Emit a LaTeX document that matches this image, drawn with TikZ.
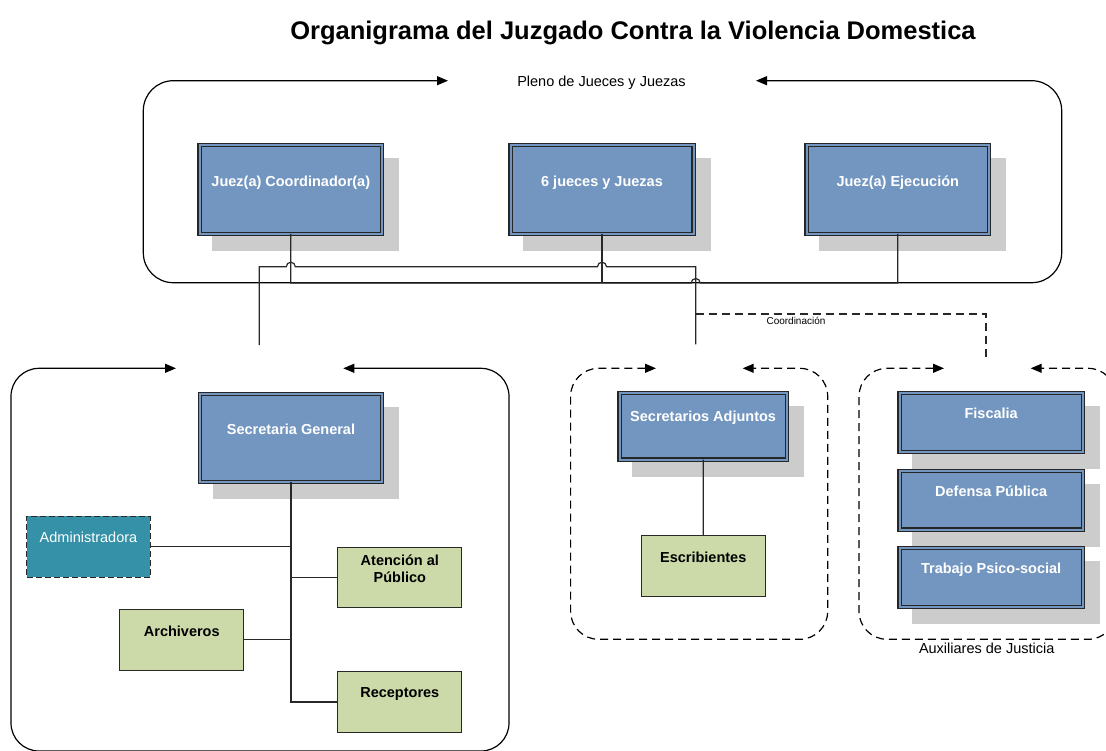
\documentclass[tikz,border=0pt]{standalone}
\usepackage{fontspec}
\setmainfont{Liberation Sans}
\usetikzlibrary{arrows.meta}
\definecolor{boxblue}{RGB}{115,150,192}
\definecolor{shadowc}{RGB}{204,204,204}
\definecolor{grn}{RGB}{204,218,170}
\definecolor{tealc}{RGB}{53,145,168}
\definecolor{linec}{RGB}{40,40,40}
\tikzset{
  bluebox/.style={draw=black!85, line width=1.1pt, double=boxblue, double distance=2pt, fill=boxblue, inner sep=0pt, outer sep=0pt},
  greenbox/.style={draw=linec, line width=1.1pt, fill=grn, inner sep=0pt, outer sep=0pt},
  adminbox/.style={draw=linec, line width=1.1pt, dash pattern=on 6pt off 3pt, fill=tealc, inner sep=0pt, outer sep=0pt},
  wtxt/.style={anchor=base, inner sep=0pt, text=white, font=\bfseries\fontsize{14.5}{17}\selectfont},
  btxt/.style={anchor=base, inner sep=0pt, text=black, font=\bfseries\fontsize{14.5}{17}\selectfont},
  lbl/.style={anchor=base, inner sep=0pt, text=black, font=\fontsize{14.5}{17}\selectfont},
  smalllbl/.style={anchor=base, inner sep=0pt, text=black, font=\fontsize{10}{12}\selectfont},
  conn/.style={draw=linec, line width=1.2pt},
  cont/.style={draw=black, line width=1.2pt},
  dsh/.style={dash pattern=on 8pt off 5pt},
  tips/.style={{Triangle[length=11pt,width=9pt]}-{Triangle[length=11pt,width=9pt]}},
}
% name, x1, y1, x2, y2, text, baseline
\newcommand\bluebx[7]{%
  \fill[shadowc] ({#2+15},{#3+15}) rectangle ({#4+15},{#5+15});
  \node[bluebox, minimum width={#4-#2-4.4}, minimum height={#5-#3-4.4}] (#1) at ({(#2+#4)/2},{(#3+#5)/2}) {};
  \node[wtxt] (#1t) at ({(#2+#4)/2},#7) {#6};
}
\newcommand\greenbx[7]{%
  \node[greenbox, minimum width={#4-#2-1.1}, minimum height={#5-#3-1.1}] (#1) at ({(#2+#4)/2},{(#3+#5)/2}) {};
  \node[btxt] (#1t) at ({(#2+#4)/2},#7) {#6};
}
\begin{document}
\begin{tikzpicture}[x=1pt,y=-1pt]
\useasboundingbox (0,0) rectangle (1106,750);
\clip (0,0) rectangle (1106,750);
\fill[white] (0,0) rectangle (1106,750);

% title
\node[anchor=base, inner sep=0pt, font=\bfseries\fontsize{25.5}{30}\selectfont] (title) at (633,39) {Organigrama del Juzgado Contra la Violencia Domestica};

% top container
\draw[cont, tips, rounded corners=30pt] (448,80.7) -- (143.3,80.7) -- (143.3,282.7) -- (1061.7,282.7) -- (1061.7,80.7) -- (756,80.7);
\node[lbl] (pleno) at (601.5,86) {Pleno de Jueces y Juezas};

% judges
\bluebx{jc}{197.3}{142.7}{384.3}{236}{Juez(a) Coordinador(a)}{186}
\bluebx{js}{508.3}{142.7}{695.7}{236}{6 jueces y Juezas}{186}
\bluebx{je}{804.3}{142.7}{991.3}{236}{Juez(a) Ejecución}{186}

% bus of judges (hops over the line to Secretarios)
\draw[conn] (jc.south) |- (691.2,283) arc[start angle=180, end angle=360, radius=4.5] -- (je.south |- 0,283) -- (je.south);
\draw[conn] (js.south) -- (js.south |- 0,283);

% line from Secretaria General to Secretarios Adjuntos, hopping over judges' verticals
\coordinate (sgin) at (259.3,345);
\coordinate (sain) at (695.7,344.3);
\draw[conn] (sgin) -- (259.3,266.7) -- ([xshift=-4.5pt]jc.south |- 0,266.7) arc[start angle=180, end angle=360, radius=4.5]
  -- ([xshift=-4.5pt]js.south |- 0,266.7) arc[start angle=180, end angle=360, radius=4.5] -- (sain |- 0,266.7) -- (sain);

% coordinacion dashed
\coordinate (cstart) at (695.7,314);
\coordinate (auxin) at (986,360);
\draw[conn, dsh] (cstart) -- (auxin |- cstart) -- (auxin);
\node[smalllbl] (coordlbl) at (796,324.5) {Coordinación};

% left container
\draw[cont, tips, rounded corners=28pt] (176,368.3) -- (11,368.3) -- (11,751) -- (509,751) -- (509,368.3) -- (343.3,368.3);

% secretarios container
\draw[cont, dsh, tips, rounded corners=28pt] (656,368.3) -- (570.6,368.3) -- (570.6,639.3) -- (827.7,639.3) -- (827.7,368.3) -- (742.7,368.3);

% auxiliares container
\draw[cont, dsh, tips, rounded corners=28pt] (944,368.3) -- (859,368.3) -- (859,639.3) -- (1116,639.3) -- (1116,368.3) -- (1030.7,368.3);
\node[lbl] (auxlbl) at (986.7,653.5) {Auxiliares de Justicia};

% Secretaria General group
\bluebx{sg}{197.7}{391.7}{384.3}{484.3}{Secretaria General}{434}
\node[adminbox, minimum width=123.3, minimum height=61] (adm) at (88.5,546.7) {};
\node[anchor=base, inner sep=0pt, text=white, font=\fontsize{14.5}{17}\selectfont] (admt) at (88.5,542) {Administradora};
\greenbx{at}{337.3}{546.7}{462.3}{608.3}{Atención al}{565}
\node[btxt] (at2) at (399.8,582.5) {Público};
\greenbx{arc}{119.3}{608.7}{244.3}{671}{Archiveros}{636}
\greenbx{rec}{337.3}{670.7}{462.3}{733.3}{Receptores}{697.5}

\draw[conn] (sg.south) |- (rec.west);
\draw[conn] (adm.east) -- (adm.east -| sg.south);
\draw[conn] (at.west) -- (at.west -| sg.south);
\draw[conn] (arc.east) -- (arc.east -| sg.south);

% Secretarios
\bluebx{sa}{617.3}{391}{789}{461.7}{Secretarios Adjuntos}{421.5}
\greenbx{es}{640.7}{535}{765.7}{597.3}{Escribientes}{562}
\draw[conn] (sa.south) -- (es.north);

% Auxiliares
\bluebx{fi}{897.3}{390.7}{1085}{454}{Fiscalia}{418.5}
\bluebx{dp}{897.3}{469}{1085}{531.7}{Defensa Pública}{496}
\bluebx{tp}{897.3}{546}{1085}{609}{Trabajo Psico-social}{573}
\end{tikzpicture}
\end{document}
